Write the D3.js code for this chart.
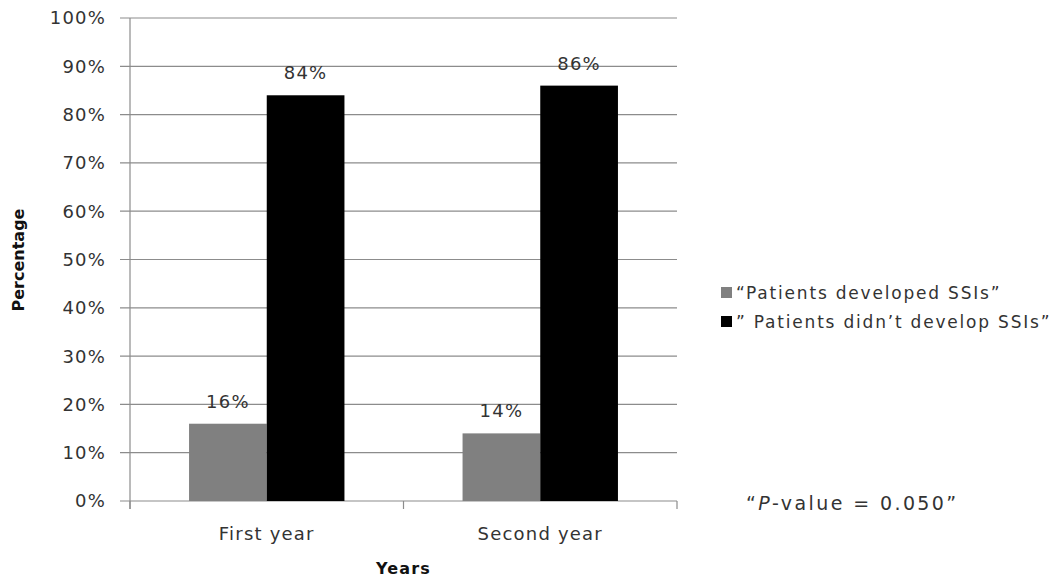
<!DOCTYPE html>
<html>
<head>
<meta charset="utf-8">
<script src="https://cdn.jsdelivr.net/npm/d3@7"></script>
<style>
  body { margin: 0; background: #fff; }
  text { font-family: "DejaVu Sans", sans-serif; fill: #333; }
</style>
</head>
<body>
<svg id="chart" width="1062" height="581"></svg>
<script>
// chart data
var categories = ['First year', 'Second year'];
var seriesNames = ['\u201cPatients developed SSIs\u201d', '\u201d Patients didn\u2019t develop SSIs\u201d'];
var developed = [16, 14];
var notDeveloped = [84, 86];
var seriesColors = ['#808080', '#000000'];
var yTicks = [0, 10, 20, 30, 40, 50, 60, 70, 80, 90, 100];

var svg = d3.select('#chart');
var plotLeft = 130, plotRight = 677, plotTop = 18, plotBottom = 501;

var x = d3.scaleBand().domain(categories).range([plotLeft, plotRight]).paddingInner(0).paddingOuter(0);
var y = d3.scaleLinear().domain([0, 100]).range([plotBottom, plotTop]);
var inner = d3.scaleBand().domain([0, 1]).range([0, x.bandwidth()]).paddingInner(0).paddingOuter(0.76);

// gridlines
svg.append('g').selectAll('line').data(yTicks).join('line')
    .attr('x1', plotLeft - 10).attr('x2', plotRight)
    .attr('y1', function(d){ return y(d); }).attr('y2', function(d){ return y(d); })
    .attr('stroke', '#8c8c8c').attr('stroke-width', 1.2);

// y axis labels
svg.append('g').selectAll('text').data(yTicks).join('text')
    .attr('x', 106).attr('y', function(d){ return y(d); })
    .attr('dy', '0.36em').attr('text-anchor', 'end')
    .style('font-size', '18px').style('letter-spacing', '1.2px')
    .text(function(d){ return d + '%'; });

// axis lines
svg.append('line').attr('x1', plotLeft).attr('x2', plotLeft).attr('y1', plotTop).attr('y2', plotBottom + 8)
    .attr('stroke', '#8c8c8c').attr('stroke-width', 1.2);
var xTicks = [plotLeft].concat(categories.map(function(c){ return x(c) + x.bandwidth(); }));
svg.append('g').selectAll('line').data(xTicks).join('line')
    .attr('x1', function(d){ return d; }).attr('x2', function(d){ return d; })
    .attr('y1', plotBottom).attr('y2', plotBottom + 8)
    .attr('stroke', '#8c8c8c').attr('stroke-width', 1.2);

// bars
var rows = categories.map(function(c, i){ return [developed[i], notDeveloped[i]]; });
var groups = svg.append('g').selectAll('g').data(rows).join('g')
    .attr('transform', function(d, i){ return 'translate(' + x(categories[i]) + ',0)'; });
groups.selectAll('rect').data(function(d){ return d; }).join('rect')
    .attr('x', function(d, j){ return inner(j); })
    .attr('width', inner.bandwidth())
    .attr('y', function(d){ return y(d); })
    .attr('height', function(d){ return plotBottom - y(d); })
    .attr('fill', function(d, j){ return seriesColors[j]; });
groups.selectAll('text').data(function(d){ return d; }).join('text')
    .attr('x', function(d, j){ return inner(j) + inner.bandwidth() / 2; })
    .attr('y', function(d){ return y(d) - 16; })
    .attr('text-anchor', 'middle')
    .style('font-size', '18px').style('letter-spacing', '1.2px')
    .text(function(d){ return d + '%'; });

// category labels
svg.append('g').selectAll('text').data(categories).join('text')
    .attr('x', function(d){ return x(d) + x.bandwidth() / 2; })
    .attr('y', 540).attr('text-anchor', 'middle')
    .style('font-size', '18px').style('letter-spacing', '1.2px')
    .text(function(d){ return d; });

// axis titles
svg.append('text').attr('x', (plotLeft + plotRight) / 2).attr('y', 574)
    .attr('text-anchor', 'middle').style('font-size', '16px').style('font-weight', 'bold')
    .style('letter-spacing', '1.2px').style('fill', '#111')
    .text('Years');
svg.append('text').attr('transform', 'translate(24,260) rotate(-90)')
    .attr('text-anchor', 'middle').style('font-size', '16px').style('font-weight', 'bold').style('fill', '#111')
    .text('Percentage');

// legend
var legend = svg.append('g').attr('transform', 'translate(721,293)');
var items = legend.selectAll('g').data(seriesNames).join('g')
    .attr('transform', function(d, i){ return 'translate(0,' + i * 29 + ')'; });
items.append('rect').attr('x', 0).attr('y', -6).attr('width', 11).attr('height', 11)
    .attr('fill', function(d, i){ return seriesColors[i]; });
items.append('text').attr('x', 15).attr('dy', '0.36em')
    .style('font-size', '17px').style('letter-spacing', '1.8px')
    .text(function(d){ return d; });

// p-value note
var note = svg.append('text').attr('x', 746).attr('y', 510)
    .style('font-size', '19px').style('letter-spacing', '2.4px');
note.append('tspan').text('\u201c');
note.append('tspan').style('font-style', 'italic').text('P');
note.append('tspan').text('-value = 0.050\u201d');
</script>
</body>
</html>
